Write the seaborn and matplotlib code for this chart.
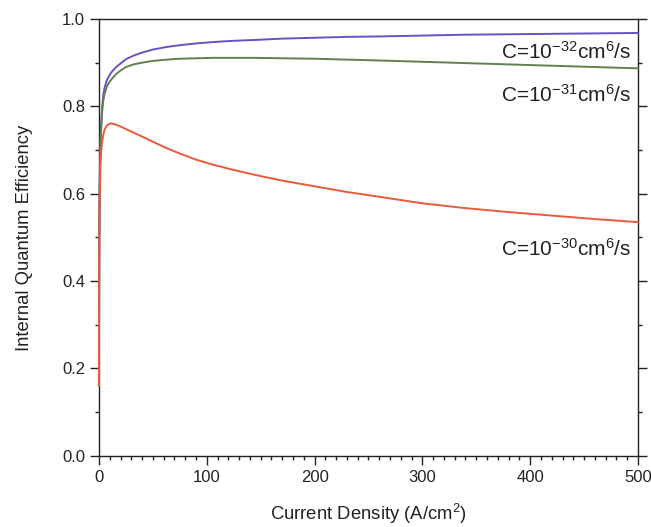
import matplotlib
matplotlib.use("Agg")
import matplotlib.pyplot as plt
import pandas as pd
import seaborn as sns
from matplotlib.ticker import FormatStrFormatter, MultipleLocator

# current density (A/cm^2)
current = [0, 0.1, 0.3, 0.6, 1, 1.5, 2, 3, 4, 5, 7, 9, 11, 13, 16, 20, 25, 32, 40, 50,
           63, 75, 90, 105, 124, 145, 170, 200, 230, 260, 300, 340, 380, 420, 460, 500]

iqe_c32 = [0.16, 0.35, 0.50, 0.60, 0.67, 0.72, 0.755, 0.80, 0.825, 0.84, 0.858, 0.868,
           0.876, 0.882, 0.890, 0.898, 0.908, 0.916, 0.923, 0.930, 0.936, 0.940, 0.944,
           0.947, 0.950, 0.952, 0.955, 0.957, 0.959, 0.960, 0.962, 0.964, 0.965, 0.966,
           0.967, 0.968]
iqe_c31 = [0.16, 0.35, 0.50, 0.60, 0.665, 0.71, 0.745, 0.79, 0.812, 0.826, 0.843, 0.853,
           0.860, 0.866, 0.874, 0.882, 0.890, 0.896, 0.900, 0.904, 0.907, 0.909, 0.910,
           0.911, 0.911, 0.911, 0.910, 0.909, 0.907, 0.905, 0.902, 0.899, 0.896, 0.893,
           0.890, 0.887]
iqe_c30 = [0.16, 0.35, 0.50, 0.58, 0.63, 0.67, 0.695, 0.72, 0.735, 0.745, 0.755, 0.759,
           0.761, 0.760, 0.758, 0.754, 0.748, 0.740, 0.731, 0.719, 0.704, 0.692, 0.678,
           0.667, 0.655, 0.643, 0.630, 0.617, 0.604, 0.593, 0.578, 0.567, 0.558, 0.550,
           0.542, 0.535]

series = ["C=1e-32", "C=1e-31", "C=1e-30"]
labels = ["C=10$^{\\mathrm{-32}}$cm$^{\\mathrm{6}}$/s",
          "C=10$^{\\mathrm{-31}}$cm$^{\\mathrm{6}}$/s",
          "C=10$^{\\mathrm{-30}}$cm$^{\\mathrm{6}}$/s"]
colors = ["#6a4fc6", "#62804f", "#e85a3c"]

df = pd.DataFrame({
    "J": current * 3,
    "IQE": iqe_c32 + iqe_c31 + iqe_c30,
    "C": sum([[s] * len(current) for s in series], []),
})

sns.set_theme(style="ticks")
plt.rcParams["font.family"] = ["Liberation Sans", "DejaVu Sans"]
plt.rcParams["mathtext.fontset"] = "custom"
plt.rcParams["mathtext.rm"] = "Liberation Sans"
plt.rcParams["mathtext.it"] = "Liberation Sans"

ink = "#222222"

fig = plt.figure(figsize=(6.51, 5.27), dpi=100)
ax = fig.add_axes([0.152, 0.135, 0.828, 0.829])

sns.lineplot(data=df, x="J", y="IQE", hue="C", palette=dict(zip(series, colors)),
             linewidth=1.4, legend=False, ax=ax, sort=False, zorder=3)
for line in ax.lines:
    line.set_clip_on(False)

ax.set_xlim(0, 500)
ax.set_ylim(0, 1.0)
ax.xaxis.set_major_locator(MultipleLocator(100))
ax.xaxis.set_minor_locator(MultipleLocator(10))
ax.yaxis.set_major_locator(MultipleLocator(0.2))
ax.yaxis.set_minor_locator(MultipleLocator(0.1))
ax.yaxis.set_major_formatter(FormatStrFormatter("%.1f"))

for side in ["top", "right", "bottom", "left"]:
    ax.spines[side].set_visible(True)
    ax.spines[side].set_color(ink)
    ax.spines[side].set_linewidth(1.0)

ax.tick_params(axis="both", which="major", direction="out", length=6.5, width=1, pad=3.5,
               color=ink, labelsize=12, labelcolor=ink)
ax.tick_params(axis="both", which="minor", direction="out", length=3, width=1, color=ink)
ax.tick_params(axis="y", which="both", right=True)
ax.tick_params(axis="x", which="both", top=False)

ax.set_xlabel("Current Density (A/cm$^{\\mathrm{2}}$)", fontsize=13.3, color=ink, labelpad=12)
ax.set_ylabel("Internal Quantum Efficiency", fontsize=13.3, color=ink, labelpad=21)

label_y = [0.908, 0.810, 0.458]
for text, y in zip(labels, label_y):
    ax.text(494, y, text, ha="right", va="baseline", fontsize=15, color=ink)

fig.savefig("out.png", dpi=100)
